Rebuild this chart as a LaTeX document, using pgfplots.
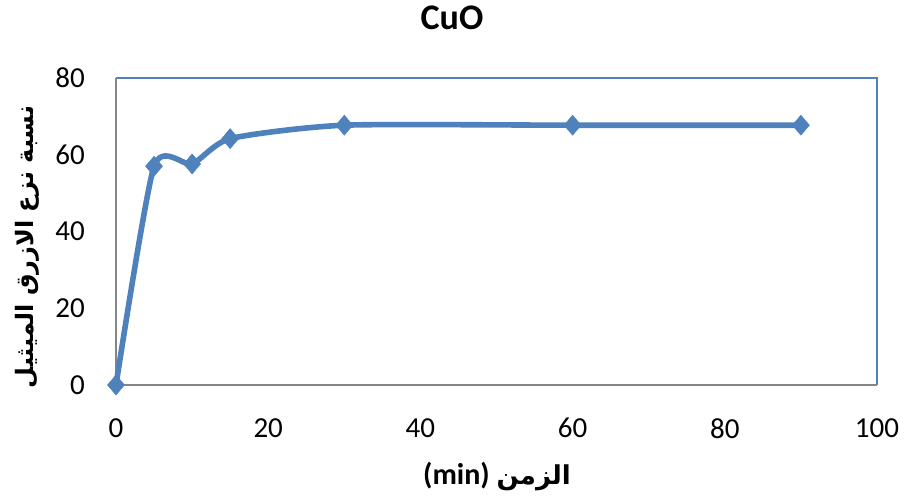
\documentclass[border=0pt]{standalone}
\usepackage{fontspec}
\usepackage{pgfplots}
\pgfplotsset{compat=1.18}
\setmainfont{Carlito}
\newfontfamily\arabicfont[Script=Arabic]{DejaVu Sans}
\TeXXeTstate=1
\definecolor{xlblue}{HTML}{4F81BD}
\definecolor{xlgray}{HTML}{868686}
\begin{document}
\begin{tikzpicture}
\useasboundingbox (0,0) rectangle (904bp,497bp);
\begin{axis}[
  at={(116bp,112bp)}, anchor=south west,
  scale only axis, width=761bp, height=307bp,
  xmin=0, xmax=100, ymin=0, ymax=80,
  xtick={0,20,40,60,80,100}, ytick={0,20,40,60,80},
  major tick length=0pt,
  axis line style={draw=none},
  clip=false,
  tick label style={font=\fontsize{29bp}{34bp}\selectfont, inner sep=0pt},
  yticklabel style={anchor=east, xshift=-31bp},
  xticklabel style={anchor=north, yshift=-33bp},
  /pgf/number format/assume math mode=true,
]
\draw[xlblue, line width=1.5bp] (rel axis cs:0,1) -- (rel axis cs:1,1) -- (rel axis cs:1,0);
\draw[xlgray, line width=1.5bp] (rel axis cs:0,1) -- (rel axis cs:0,0) -- (rel axis cs:1,0);
\addplot[xlblue, line width=5.6bp, smooth, tension=0.38,
  mark=diamond*, mark size=10bp, mark options={solid, fill=xlblue, draw=xlblue, line width=0.5bp, xscale=1.13}]
  coordinates {(0,0) (5,57) (10,57.6) (15,64.2) (30,67.7) (60,67.7) (90,67.7)};
\end{axis}
\node[font=\bfseries\fontsize{36bp}{42bp}\selectfont] at (452bp,479bp) {CuO};
\node[font=\bfseries\fontsize{30bp}{36bp}\selectfont] at (497bp,20bp) {(min) {\arabicfont\bfseries\fontsize{26bp}{32bp}\selectfont\beginR الزمن\endR}};
\node[rotate=90, font=\arabicfont\bfseries\fontsize{24bp}{29bp}\selectfont] at (27bp,250bp) {\beginR نسبة نزع الازرق الميثيل\endR};
\end{tikzpicture}
\end{document}
